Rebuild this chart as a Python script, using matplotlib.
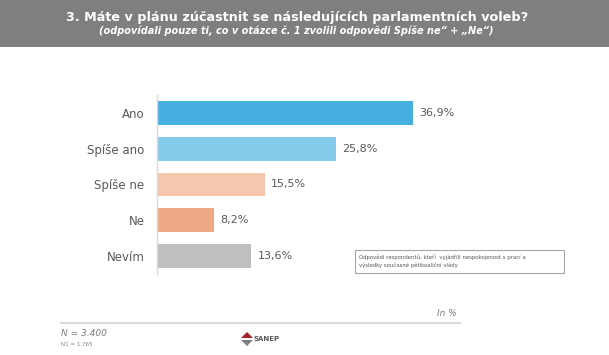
import matplotlib
matplotlib.use("Agg")
import matplotlib.pyplot as plt
from matplotlib.patches import Rectangle, Polygon

categories = ["Ano", "Spíše ano", "Spíše ne", "Ne", "Nevím"]
values = [36.9, 25.8, 15.5, 8.2, 13.6]
value_labels = ["36,9%", "25,8%", "15,5%", "8,2%", "13,6%"]
colors = ["#45afe0", "#85cbeb", "#f5c8ae", "#f0a985", "#bfbfbf"]

title = "3. Máte v plánu zúčastnit se následujících parlamentních voleb?"
subtitle = "(odpovídali pouze ti, co v otázce č. 1 zvolili odpovědi Spíše ne“ + „Ne“)"
note = "Odpovědi respondentů, kteří  vyjádřili nespokojenost s prací a\nvýsledky současné pětikoaliční vlády"

W, H = 609, 355
fig = plt.figure(figsize=(W / 100, H / 100), dpi=100)
fig.patch.set_facecolor("white")

# header band
fig.add_artist(Rectangle((0, 1 - 47 / H), 1, 47 / H, transform=fig.transFigure,
                         facecolor="#7f7f7f", edgecolor="none"))
fig.text(0.487, 1 - 17 / H, title, ha="center", va="center", color="white",
         fontsize=9.2, fontweight="bold", family="DejaVu Sans")
fig.text(0.487, 1 - 31 / H, subtitle, ha="center", va="center", color="white",
         fontsize=7, fontweight="bold", style="italic", family="DejaVu Sans")

# axes: x=0 at 157px, 6.94 px per %
x0, x1 = 157, 157 + 6.94 * 50
y_top, y_bot = 95, 274
ax = fig.add_axes([x0 / W, 1 - y_bot / H, (x1 - x0) / W, (y_bot - y_top) / H])
ypos = list(range(len(categories)))
ax.barh(ypos, values, height=0.66, color=colors)
ax.set_xlim(0, 50)
ax.set_ylim(len(categories) - 0.5, -0.5)
ax.set_yticks(ypos)
ax.set_yticklabels(categories, fontsize=8.5, color="#595959")
ax.tick_params(axis="y", length=0, pad=9)
ax.set_xticks([])
for s in ["top", "right", "bottom"]:
    ax.spines[s].set_visible(False)
ax.spines["left"].set_color("#d9d9d9")
ax.spines["left"].set_linewidth(1)
for y, v, lab in zip(ypos, values, value_labels):
    ax.text(v + 0.9, y, lab, va="center", ha="left", fontsize=8, color="#595959")

# note box
fig.add_artist(Rectangle((355 / W, 1 - 273 / H), (564 - 355) / W, 23 / H,
                         transform=fig.transFigure, facecolor="white",
                         edgecolor="#a6a6a6", linewidth=0.8))
fig.text(359 / W, 1 - 261.5 / H, note, ha="left", va="center", fontsize=3.9,
         color="#595959", linespacing=1.6)

# bottom line and footer
fig.add_artist(plt.Line2D([61 / W, 460 / W], [1 - 323 / H, 1 - 323 / H],
                          transform=fig.transFigure, color="#d9d9d9", linewidth=1.5))
fig.text(457 / W, 1 - 314 / H, "In %", ha="right", va="center", fontsize=6.5,
         style="italic", color="#7f7f7f")
fig.text(61 / W, 1 - 334 / H, "N = 3.400", ha="left", va="center", fontsize=6.5,
         style="italic", color="#7f7f7f")
fig.text(61 / W, 1 - 344 / H, "N1 = 1.765", ha="left", va="center", fontsize=4,
         color="#7f7f7f")

# SANEP logo (simple shapes + text)
cx, cy = 247, 339
fig.add_artist(Polygon([((cx - 6) / W, 1 - (cy - 1) / H), (cx / W, 1 - (cy - 7) / H),
                        ((cx + 6) / W, 1 - (cy - 1) / H)], closed=True,
                       transform=fig.transFigure, facecolor="#a3252c", edgecolor="none"))
fig.add_artist(Polygon([((cx - 6) / W, 1 - (cy + 1) / H), (cx / W, 1 - (cy + 7) / H),
                        ((cx + 6) / W, 1 - (cy + 1) / H)], closed=True,
                       transform=fig.transFigure, facecolor="#7f7f7f", edgecolor="none"))
fig.text((cx + 6) / W, 1 - cy / H, "SANEP", ha="left", va="center", fontsize=5,
         fontweight="bold", color="#595959")

fig.savefig("out.png", dpi=100)
